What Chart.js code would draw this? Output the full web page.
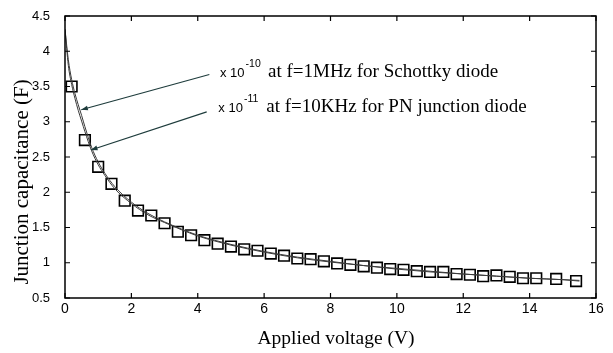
<!DOCTYPE html>
<html>
<head>
<meta charset="utf-8">
<script src="https://cdn.jsdelivr.net/npm/chart.js@4.4.1/dist/chart.umd.min.js"></script>
<style>
  html, body { margin: 0; padding: 0; background: #fff; }
</style>
</head>
<body>
<canvas id="capChart" width="613" height="353"></canvas>
<script>
// square markers (measured points)
const markerVoltage = [0.2, 0.6, 1.0, 1.4, 1.8, 2.2, 2.6, 3.0, 3.4, 3.8, 4.2, 4.6, 5.0, 5.4, 5.8, 6.2, 6.6, 7.0, 7.4, 7.8,
  8.2, 8.6, 9.0, 9.4, 9.8, 10.2, 10.6, 11.0, 11.4, 11.8, 12.2, 12.6, 13.0, 13.4, 13.8, 14.2, 14.8, 15.4];
const markerCap = [3.50, 2.74, 2.36, 2.12, 1.88, 1.74, 1.67, 1.56, 1.44, 1.39, 1.32, 1.27, 1.23, 1.19, 1.17, 1.13, 1.10, 1.06, 1.05, 1.02,
  0.99, 0.97, 0.95, 0.93, 0.91, 0.90, 0.88, 0.87, 0.87, 0.84, 0.83, 0.81, 0.82, 0.80, 0.78, 0.78, 0.77, 0.74];

// the two thin curves
const curveVoltage = [0, 0.1, 0.2, 0.3, 0.4, 0.5, 0.6, 0.8, 1.0, 1.2, 1.5, 2, 2.5, 3, 3.5, 4, 4.5, 5, 6, 7, 8, 9, 10, 11, 12, 13, 14, 15, 15.5];
const schottkyCap = [4.31, 3.88, 3.60, 3.40, 3.24, 3.09, 2.93, 2.64, 2.43, 2.27, 2.08, 1.86, 1.70, 1.58, 1.48, 1.39, 1.32, 1.26, 1.16, 1.08, 1.02, 0.96, 0.92, 0.88, 0.84, 0.81, 0.78, 0.76, 0.75];
const pnCap = [4.31, 3.80, 3.53, 3.33, 3.16, 3.01, 2.86, 2.59, 2.39, 2.24, 2.05, 1.84, 1.68, 1.57, 1.47, 1.38, 1.31, 1.25, 1.15, 1.07, 1.01, 0.96, 0.91, 0.87, 0.84, 0.81, 0.78, 0.76, 0.74];

const xTickValues = [0, 2, 4, 6, 8, 10, 12, 14, 16];
const yTickValues = [0.5, 1, 1.5, 2, 2.5, 3, 3.5, 4, 4.5];

// annotation texts, anchored in data units
const notes = [
  { mult: 'x 10', exp: '-10', text: 'at f=1MHz for Schottky diode', at: [4.67, 3.64], tail: [4.35, 3.67], tip: [0.49, 3.17] },
  { mult: 'x 10', exp: '-11', text: 'at f=10KHz for PN junction diode', at: [4.62, 3.14], tail: [4.27, 3.14], tip: [0.78, 2.6] }
];

const toPoints = (xs, ys) => xs.map((v, i) => ({ x: v, y: ys[i] }));

const sans = 'Liberation Sans, Arial, sans-serif';
const serif = 'Liberation Serif, Times New Roman, serif';

const framePlugin = {
  id: 'frame',
  afterDatasetsDraw(chart) {
    const { ctx, chartArea: a, scales: { x, y } } = chart;
    ctx.save();
    ctx.strokeStyle = '#000';
    ctx.lineWidth = 1.5;
    ctx.strokeRect(a.left, a.top, a.right - a.left, a.bottom - a.top);

    // ticks point inwards, on all four sides
    ctx.lineWidth = 1.2;
    ctx.beginPath();
    xTickValues.forEach(v => {
      const px = x.getPixelForValue(v);
      ctx.moveTo(px, a.bottom); ctx.lineTo(px, a.bottom - 5);
      ctx.moveTo(px, a.top); ctx.lineTo(px, a.top + 5);
    });
    yTickValues.forEach(v => {
      const py = y.getPixelForValue(v);
      ctx.moveTo(a.left, py); ctx.lineTo(a.left + 5, py);
      ctx.moveTo(a.right, py); ctx.lineTo(a.right - 5, py);
    });
    ctx.stroke();

    // arrows + notes
    notes.forEach(n => {
      const tx = x.getPixelForValue(n.tail[0]), ty = y.getPixelForValue(n.tail[1]);
      const hx = x.getPixelForValue(n.tip[0]), hy = y.getPixelForValue(n.tip[1]);
      ctx.strokeStyle = '#1e3c3c';
      ctx.fillStyle = '#1e3c3c';
      ctx.lineWidth = 1.2;
      ctx.beginPath();
      ctx.moveTo(tx, ty);
      ctx.lineTo(hx, hy);
      ctx.stroke();
      const ang = Math.atan2(hy - ty, hx - tx);
      ctx.beginPath();
      ctx.moveTo(hx, hy);
      ctx.lineTo(hx - 7 * Math.cos(ang - 0.35), hy - 7 * Math.sin(ang - 0.35));
      ctx.lineTo(hx - 7 * Math.cos(ang + 0.35), hy - 7 * Math.sin(ang + 0.35));
      ctx.closePath();
      ctx.fill();

      const px = x.getPixelForValue(n.at[0]), py = y.getPixelForValue(n.at[1]);
      ctx.fillStyle = '#000';
      ctx.textBaseline = 'alphabetic';
      ctx.textAlign = 'left';
      ctx.font = '13px ' + sans;
      ctx.fillText(n.mult, px, py);
      const w1 = ctx.measureText(n.mult).width;
      ctx.font = '10.5px ' + sans;
      ctx.fillText(n.exp, px + w1 + 1, py - 10);
      ctx.font = '19px ' + serif;
      ctx.fillText(n.text, px + 48, py);
    });

    // axis titles
    ctx.fillStyle = '#000';
    ctx.font = '19.5px ' + serif;
    ctx.textAlign = 'center';
    ctx.fillText('Applied voltage (V)', 336, 344);
    ctx.translate(22, 182);
    ctx.rotate(-Math.PI / 2);
    ctx.textBaseline = 'middle';
    ctx.font = '21px ' + serif;
    ctx.fillText('Junction capacitance (F)', 0, 0);
    ctx.restore();
  }
};

const ctx = document.getElementById('capChart').getContext('2d');

new Chart(ctx, {
  type: 'scatter',
  data: {
    datasets: [
      {
        label: 'Schottky',
        data: toPoints(curveVoltage, schottkyCap),
        showLine: true,
        borderColor: '#3a3a3a',
        borderWidth: 1,
        pointRadius: 0,
        cubicInterpolationMode: 'monotone'
      },
      {
        label: 'PN junction',
        data: toPoints(curveVoltage, pnCap),
        showLine: true,
        borderColor: '#3a3a3a',
        borderWidth: 1,
        pointRadius: 0,
        cubicInterpolationMode: 'monotone'
      },
      {
        label: 'measured',
        data: toPoints(markerVoltage, markerCap),
        showLine: false,
        pointStyle: 'rect',
        pointRadius: 7.5,
        borderColor: '#000',
        backgroundColor: 'rgba(0,0,0,0)',
        pointBorderWidth: 1.6
      }
    ]
  },
  options: {
    responsive: false,
    animation: false,
    devicePixelRatio: 1,
    events: [],
    layout: { padding: { left: 0, top: 16, right: 17, bottom: 0 } },
    plugins: {
      legend: { display: false },
      tooltip: { enabled: false }
    },
    scales: {
      x: {
        type: 'linear',
        min: 0,
        max: 16,
        afterFit: s => { s.height = 55; s.paddingLeft = 0; s.paddingRight = 0; },
        afterBuildTicks: s => { s.ticks = xTickValues.map(v => ({ value: v })); },
        grid: { display: false, drawTicks: false },
        border: { display: false },
        ticks: { color: '#000', font: { family: sans, size: 14 }, padding: 3, maxRotation: 0 }
      },
      y: {
        type: 'linear',
        min: 0.5,
        max: 4.5,
        afterFit: s => { s.width = 65; s.paddingTop = 0; s.paddingBottom = 0; },
        afterBuildTicks: s => { s.ticks = yTickValues.map(v => ({ value: v })); },
        grid: { display: false, drawTicks: false },
        border: { display: false },
        ticks: { color: '#000', font: { family: sans, size: 13 }, padding: 15, callback: v => String(v) }
      }
    }
  },
  plugins: [framePlugin]
});
</script>
</body>
</html>
